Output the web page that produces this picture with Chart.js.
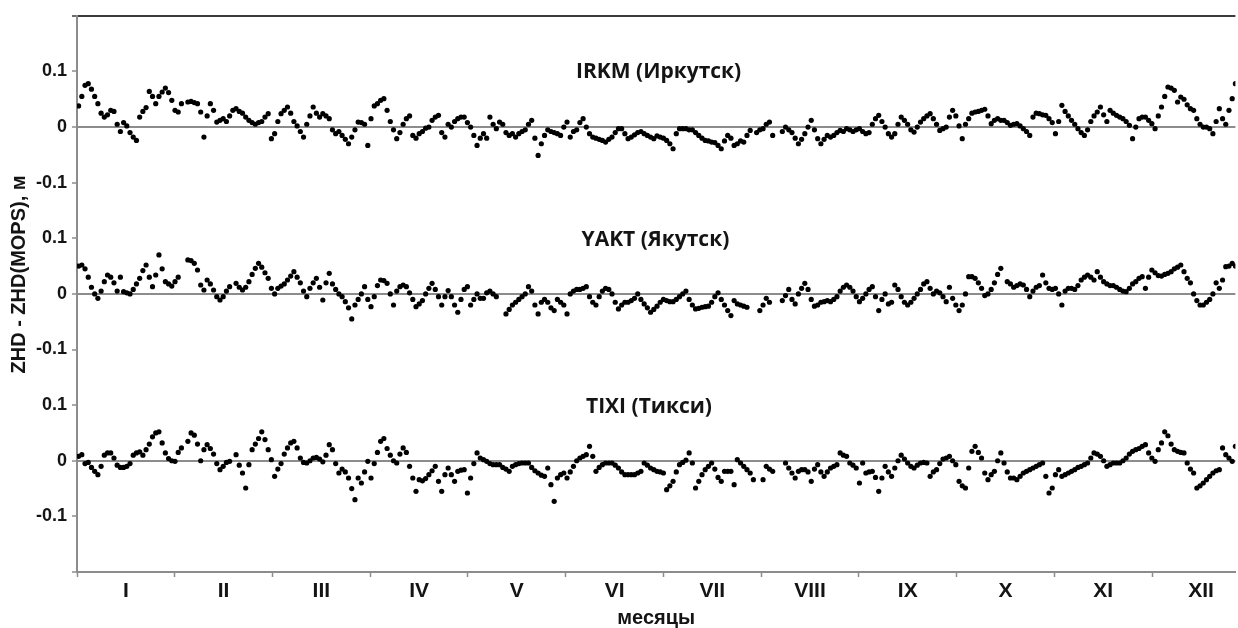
<!DOCTYPE html>
<html><head><meta charset="utf-8">
<script src="https://cdn.jsdelivr.net/npm/chart.js@4.4.0/dist/chart.umd.min.js"></script>
<style>html,body{margin:0;padding:0;background:#fff}#wrap{width:1238px;height:628px;position:relative}</style>
</head><body><div id="wrap"><canvas id="c"></canvas></div>
<script>
// month labels (equal-width months on the time axis)
const months = ['I','II','III','IV','V','VI','VII','VIII','IX','X','XI','XII'];
const daysPerMonth = 365 / 12;

// daily ZHD - ZHD(MOPS) differences, in millimetres (day 0 .. 360)
const irkmMm = [
38,55,75,78,68,55,42,25,18,22,
30,28,5,-8,8,2,-10,-18,-24,18,
28,35,64,55,42,55,63,70,62,48,
30,27,42,null,45,46,44,42,27,-18,
20,42,30,9,12,15,10,20,30,33,
28,25,18,12,8,5,8,10,18,24,
-21,-12,10,24,30,36,25,10,2,-8,
-18,5,20,36,25,18,24,20,15,-5,
-12,-8,-15,-22,-30,-18,-5,9,8,5,
-33,15,38,42,48,51,30,10,-5,-21,
-10,5,15,20,-15,-20,-12,-8,-2,0,
12,18,21,-10,-18,5,0,10,15,18,
18,8,0,-15,-33,-20,-12,-20,18,5,
-3,9,5,-10,-15,-12,-18,-12,-8,-5,
5,12,-20,-51,-30,-15,-5,-8,-10,-12,
-15,0,9,-18,-8,-5,8,15,0,-12,
-18,-20,-22,-24,-27,-22,-18,-10,-3,-3,
-12,-21,-18,-14,-10,-8,-12,-15,-18,-21,
-16,-18,-20,-24,-30,-39,-12,-3,-3,-3,
-5,-5,-10,-15,-20,-24,-25,-27,-28,-33,
-39,-25,-15,-20,-33,-30,-25,-27,-15,-6,
null,-10,-5,-3,5,9,-15,null,null,-8,
0,-5,-10,-20,-30,-22,-12,0,12,-5,
-21,-30,-22,-15,-18,-15,-10,-6,-8,-3,
-5,-8,-5,-3,-8,-12,-10,5,15,21,
10,0,-12,-18,-12,5,18,12,5,-5,
-9,0,9,15,20,24,15,5,-6,-3,
0,18,30,20,2,-21,5,15,25,27,
28,30,32,20,6,12,15,12,12,8,
3,5,6,2,-3,-8,-15,18,25,24,
22,21,15,8,-12,10,39,28,20,12,
5,-3,-10,-15,-5,10,20,27,36,22,
10,30,25,21,18,15,10,3,-21,0,
15,18,18,12,6,-3,20,36,55,72,
70,66,45,54,50,40,33,30,15,5,
0,0,-3,-12,10,33,15,5,30,51,
78];
const yaktMm = [
50,52,45,30,12,0,-8,5,22,34,
30,20,5,30,4,2,0,8,18,28,
42,52,30,13,34,70,45,22,18,14,
22,30,null,null,61,60,55,43,16,7,
25,18,7,-5,-11,-5,5,13,null,19,
12,7,12,22,35,46,55,48,38,28,
10,0,10,14,18,25,32,40,30,20,
5,-5,10,20,28,12,-11,20,37,18,
8,0,-5,-14,-25,-45,-20,-10,0,13,
-10,-23,-5,15,25,24,19,0,-20,5,
13,16,13,2,-10,-23,-18,-12,0,10,
19,8,-5,-20,-5,6,-5,-20,-33,-10,
8,13,-20,-10,0,-8,-8,2,5,0,
-5,null,null,-36,-28,-20,-15,-10,-5,0,
13,5,-20,-36,-15,-10,-15,-25,-30,-10,
-15,-20,-36,0,5,8,8,10,13,-5,
-15,-20,-5,5,10,8,0,-15,-27,-20,
-15,-15,-12,-8,0,-10,-18,-25,-33,-28,
-22,-15,-10,-12,-14,-14,-10,-5,0,5,
-10,-20,-27,-26,-24,-23,-22,-15,-5,2,
-10,-20,-30,-39,-12,-18,-20,-22,-24,null,
null,null,-30,-20,-8,-15,null,null,null,-12,
-3,8,-10,-18,0,10,19,8,-10,-22,
-20,-15,-14,-12,-14,-10,-5,5,12,16,
12,5,-5,-14,-8,0,8,13,-5,-30,
-10,0,-18,-15,16,8,-5,-15,-20,-15,
-8,0,8,18,22,10,0,5,2,-5,
-14,12,-8,-20,-30,-20,0,31,31,28,
20,10,-3,0,8,20,35,46,null,22,
18,12,15,18,16,8,-5,5,12,15,
34,20,10,8,10,0,-20,5,10,10,
8,15,25,30,34,30,25,40,30,22,
18,15,15,12,8,5,4,10,18,22,
28,31,10,30,43,38,33,32,35,37,
40,45,48,52,40,28,20,0,-12,-20,
-20,-15,-10,0,20,10,25,49,50,55,
50];
const tixiMm = [
8,11,-5,-3,-12,-19,-25,-10,10,14,
14,5,-8,-12,-12,-10,-5,10,14,16,
10,20,30,43,50,52,32,14,4,0,
-1,15,23,null,35,50,46,30,0,20,
29,22,12,-5,-16,-10,-3,-1,null,11,
-8,-22,-49,-7,20,30,40,52,38,20,
2,-28,-15,-5,12,23,32,35,23,5,
-3,-4,0,5,6,3,-2,10,29,20,
-5,-22,-15,-20,-31,-50,-70,-31,-40,-20,
-1,-31,-5,15,35,40,22,10,0,-4,
12,23,15,-10,-31,-55,-34,-36,-32,-25,
-18,-10,-37,-55,-25,-13,-25,-37,-19,-17,
-16,-58,-31,-5,14,5,2,-1,-5,-7,
-7,-7,-12,-15,-19,-10,-7,-5,-4,-4,
-4,-12,-18,-22,-26,-28,-13,-43,-73,-31,
-25,-22,-31,-20,-10,0,5,8,11,26,
8,-19,-12,-7,-4,-4,-4,-8,-13,-20,
-25,-25,-25,-25,-22,-19,-4,-8,-13,-16,
-19,-20,-22,-52,-45,-37,-20,-7,-3,1,
14,-4,-49,-37,-25,-16,-10,-4,-15,-30,
-37,-19,-19,-19,-43,2,-4,-10,-16,-22,
-34,null,null,-34,-10,-15,-19,null,null,null,
-4,-13,-22,-31,-19,-16,-16,-20,-37,-15,
-7,-20,-28,-20,-13,-10,-7,14,10,8,
-4,-8,-13,-40,-4,-22,-20,-19,-30,-55,
-31,-10,-20,-28,-13,0,10,3,-4,-10,
-13,-8,-4,-3,-4,-28,-20,-16,-5,3,
5,8,0,-7,-37,-45,-49,-13,17,26,
15,5,-22,-34,-25,-19,0,14,-4,-20,
-31,-31,-34,-28,-22,-19,-16,-13,-10,-7,
-4,-28,-58,-49,-25,-16,-28,-25,-22,-19,
-16,-12,-10,-7,-4,5,14,12,8,0,
-10,-7,-4,-4,-4,0,5,12,17,20,
22,26,29,14,5,-1,20,32,52,45,
30,20,17,15,14,-4,-15,-22,-49,-45,
-40,-34,-28,-22,-18,-16,23,11,5,-1,
26];

const stations = ['IRKM (Иркутск)', 'YAKT (Якутск)', 'TIXI (Тикси)'];
const stationSeries = [irkmMm, yaktMm, tixiMm];
const stationOffsets = [0.6, 0.3, 0];          // vertical shift of each panel, m
const yTickValues = [-0.2,-0.1,0,0.1,0.2,0.3,0.4,0.5,0.6,0.7,0.8];
const yTickLabels = ['','-0.1','0','0.1','-0.1','0','0.1','-0.1','0','0.1',''];
const yTitle = 'ZHD - ZHD(MOPS), м';

// station caption anchors (day, metres above the panel's zero line)
const captionDay = [181, 180, 178];
const captionDy = [0.099, 0.097, 0.097];

const AXIS = '#8c8c8c', TOP = '#3c3c3c', INK = '#141414';
const near = (a, b) => Math.abs(a - b) < 1e-6;

const datasets = stationSeries.map((arr, s) => ({
  label: stations[s],
  data: arr.map((v, i) => v === null ? null : { x: i + 0.5, y: v / 1000 + stationOffsets[s] }).filter(p => p),
  backgroundColor: '#000', borderColor: '#000', borderWidth: 0,
  pointRadius: 2.6, pointHoverRadius: 2.6, showLine: false
}));

const captions = {
  id: 'captions',
  afterDatasetsDraw(chart) {
    const { ctx, scales: { x, y } } = chart;
    ctx.save();
    ctx.font = 'bold 21px "Open Sans"';
    ctx.fillStyle = INK; ctx.textAlign = 'center'; ctx.textBaseline = 'middle';
    stations.forEach((s, i) => ctx.fillText(s, x.getPixelForValue(captionDay[i]), y.getPixelForValue(stationOffsets[i] + captionDy[i])));
    ctx.restore();
  }
};

new Chart(document.getElementById('c'), {
  type: 'scatter',
  data: { datasets },
  plugins: [captions],
  options: {
    responsive: true, maintainAspectRatio: false, animation: false, events: [],
    layout: { padding: { top: 14, right: 0, bottom: 0, left: 0 } },
    plugins: { legend: { display: false }, tooltip: { enabled: false } },
    scales: {
      x: {
        type: 'linear', min: 0, max: 360.5,
        afterBuildTicks(scale) {
          const t = [];
          for (let k = 0; k < 12; k++) { t.push({ value: k * daysPerMonth }); t.push({ value: (k + 0.5) * daysPerMonth }); }
          scale.ticks = t;
        },
        afterFit(scale) { scale.height = 56; },
        ticks: {
          autoSkip: false, maxRotation: 0, minRotation: 0, padding: 3, color: INK,
          font: { family: '"Liberation Sans", Arial, sans-serif', size: 21, weight: 'bold', lineHeight: 1.1 },
          callback: (v, i) => (i % 2 ? months[(i - 1) / 2] : '')
        },
        grid: {
          drawOnChartArea: false, drawTicks: true, tickLength: 5, tickWidth: 1.5,
          tickColor: ctx => (ctx.index % 2 === 0 ? AXIS : 'rgba(0,0,0,0)')
        },
        border: { display: true, color: AXIS, width: 2 },
        title: {
          display: true, text: 'месяцы', color: INK,
          font: { family: '"Liberation Sans", Arial, sans-serif', size: 20, weight: 'bold', lineHeight: 1 },
          padding: { top: 0, bottom: 0 }
        }
      },
      y: {
        type: 'linear', min: -0.2, max: 0.8,
        afterBuildTicks(scale) { scale.ticks = yTickValues.map(v => ({ value: v })); },
        afterFit(scale) { scale.width = 77; },
        ticks: {
          autoSkip: false, padding: 5, color: INK,
          font: { family: '"Liberation Sans", Arial, sans-serif', size: 18, weight: 'bold' },
          callback: (v, i) => yTickLabels[i]
        },
        grid: {
          drawTicks: true, tickLength: 5, lineWidth: 2, tickWidth: 1.5,
          color: ctx => {
            const v = ctx.tick ? ctx.tick.value : NaN;
            if (near(v, 0.8)) return TOP;
            if (stationOffsets.some(o => near(v, o))) return AXIS;
            return 'rgba(0,0,0,0)';
          },
          tickColor: ctx => (ctx.tick && near(ctx.tick.value, 0.8) ? TOP : AXIS)
        },
        border: { display: true, color: AXIS, width: 2 },
        title: {
          display: true, text: '\u00a0'.repeat(7) + yTitle, color: INK,
          font: { family: '"Liberation Sans", Arial, sans-serif', size: 20, weight: 'bold', lineHeight: 1.2 },
          padding: { top: 7, bottom: 0 }
        }
      }
    }
  }
});
</script></body></html>
